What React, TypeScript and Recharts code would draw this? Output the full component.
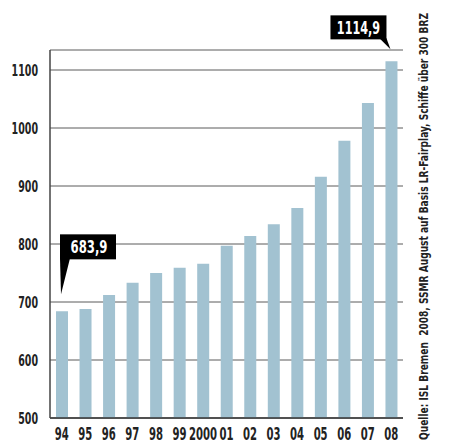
import { Bar, BarChart, CartesianGrid, LabelList, XAxis, YAxis } from "recharts";

const years = ["94", "95", "96", "97", "98", "99", "2000", "01", "02", "03", "04", "05", "06", "07", "08"];
const fleet = [683.9, 688, 712, 733, 750, 759, 766, 797, 814, 834, 862, 916, 978, 1043, 1114.9];
const yTicks = [500, 600, 700, 800, 900, 1000, 1100];
const callouts: Record<number, string> = { 0: "683,9", 14: "1114,9" };
const source = "Quelle: ISL Bremen  2008, SSMR August auf Basis LR-Fairplay, Schiffe über 300 BRZ";

const data = years.map((year, i) => ({ year, value: fleet[i] }));

const FONT = "'DejaVu Sans Condensed', 'DejaVu Sans', sans-serif";

// condensed look: squeeze glyphs into a fixed advance per char
function Narrow({ x, y, text, size, per, anchor, fill }: any) {
  return (
    <text
      x={x}
      y={y}
      textAnchor={anchor}
      fill={fill}
      fontFamily={FONT}
      fontWeight="bold"
      fontSize={size}
      textLength={text.length * per}
      lengthAdjust="spacingAndGlyphs"
    >
      {text}
    </text>
  );
}

function XTick(props: any) {
  const { x, y, payload } = props;
  return <Narrow x={x} y={y + 14} text={payload.value} size={18} per={7} anchor="middle" fill="#222" />;
}

function YTick(props: any) {
  const { x, y, payload } = props;
  const t = String(payload.value);
  return <Narrow x={x} y={y + 5.5} text={t} size={15.5} per={6.6} anchor="end" fill="#222" />;
}

function Callout(props: any) {
  const { x, y, width, index } = props;
  const text = callouts[index];
  if (!text) return null;
  if (index === 0) {
    const tipX = x + 4;
    const tipY = y - 17;
    const bx = x + 4;
    const by = tipY - 60;
    return (
      <g>
        <rect x={bx} y={by} width={56} height={25} fill="#000" />
        <polygon points={`${bx},${by + 24} ${bx + 10},${by + 24} ${tipX + 1},${tipY}`} fill="#000" />
        <Narrow x={bx + 29} y={by + 19} text={text} size={18} per={7.4} anchor="middle" fill="#fff" />
      </g>
    );
  }
  const tipX = x + 5;
  const tipY = y - 12;
  const bx = x + width - 67;
  const by = tipY - 34;
  return (
    <g>
      <rect x={bx} y={by} width={56} height={24} fill="#000" />
      <polygon points={`${bx + 49},${by + 23} ${bx + 56},${by + 23} ${tipX},${tipY}`} fill="#000" />
      <Narrow x={bx + 28} y={by + 19} text={text} size={18} per={7.2} anchor="middle" fill="#fff" />
    </g>
  );
}

export default function App() {
  return (
    <div style={{ position: "absolute", left: 0, top: 0, width: 450, height: 443, background: "#fff" }}>
      <BarChart
        width={450}
        height={443}
        data={data}
        margin={{ top: 50, right: 47, left: 0, bottom: 0 }}
        barCategoryGap={6}
      >
        <CartesianGrid horizontal vertical={false} stroke="#5a5a5a" strokeWidth={1} />
        <XAxis
          dataKey="year"
          height={25}
          axisLine={{ stroke: "#333", strokeWidth: 1.5 }}
          tickLine={false}
          interval={0}
          tick={<XTick />}
        />
        <YAxis
          width={50}
          domain={[500, 1134.5]}
          ticks={yTicks}
          allowDataOverflow
          axisLine={{ stroke: "#444", strokeWidth: 1.5 }}
          tickLine={false}
          tickMargin={6}
          tick={<YTick />}
        />
        <Bar dataKey="value" fill="#a2c2d1" isAnimationActive={false}>
          <LabelList dataKey="value" content={<Callout />} />
        </Bar>
      </BarChart>
      <svg width={450} height={443} style={{ position: "absolute", left: 0, top: 0, pointerEvents: "none" }}>
        <text
          transform="translate(428,440) rotate(-90)"
          x={0}
          y={0}
          fill="#222"
          fontFamily={FONT}
          fontWeight="bold"
          fontSize={13}
          textLength={427}
          lengthAdjust="spacingAndGlyphs"
          xmlSpace="preserve"
        >
          {source}
        </text>
      </svg>
    </div>
  );
}
